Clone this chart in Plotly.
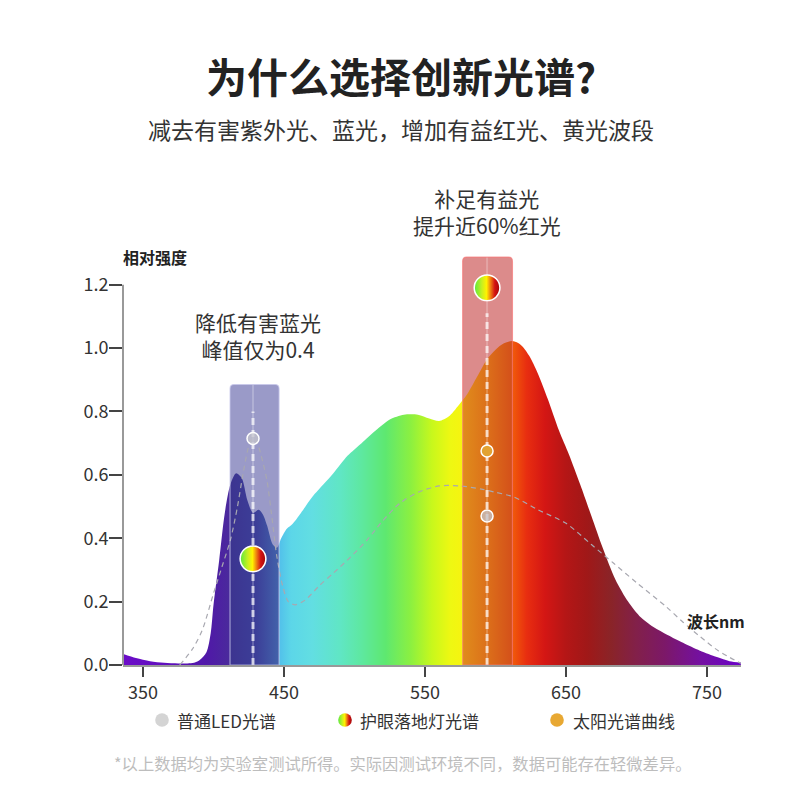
import base64
import plotly.graph_objects as go

# ============================================
# Data
# ============================================
# 护眼落地灯光谱 (filled, colored by wavelength)
lamp_wl = [336, 345, 355, 365, 375, 385, 390, 395, 398, 400, 404, 408, 412, 416, 420,
           424, 428, 432, 435, 438, 442, 445, 448, 452, 456, 462, 470, 478, 485, 495,
           505, 515, 525, 535, 545, 553, 560, 567, 573, 580, 587, 594, 600, 606, 612,
           618, 624, 630, 637, 645, 652, 660, 668, 676, 685, 694, 702, 712, 722, 733,
           745, 757, 766, 774]
lamp_val = [0.035, 0.022, 0.012, 0.007, 0.005, 0.006, 0.015, 0.04, 0.10, 0.19, 0.33, 0.48,
            0.57, 0.605, 0.59, 0.52, 0.48, 0.49, 0.475, 0.44, 0.38, 0.37, 0.40, 0.43,
            0.445, 0.48, 0.53, 0.57, 0.605, 0.66, 0.70, 0.74, 0.775, 0.79, 0.79, 0.778,
            0.77, 0.785, 0.815, 0.855, 0.91, 0.965, 0.995, 1.015, 1.022, 1.01, 0.975,
            0.92, 0.84, 0.74, 0.665, 0.57, 0.47, 0.37, 0.27, 0.20, 0.155, 0.12, 0.095,
            0.07, 0.045, 0.025, 0.012, 0.008]

# 普通LED光谱 (grey dashed)
led_wl = [376, 385, 392, 400, 406, 412, 417, 421, 425, 428, 431, 435, 438, 441, 445, 449,
          453, 458, 465, 475, 485, 497, 509, 520, 532, 545, 560, 575, 590, 600, 613, 630,
          650, 668, 684, 700, 721, 733, 745, 758, 774]
led_val = [0.0, 0.05, 0.11, 0.226, 0.31, 0.395, 0.50, 0.605, 0.69, 0.715, 0.70, 0.64, 0.58,
           0.48, 0.34, 0.25, 0.20, 0.19, 0.205, 0.25, 0.29, 0.34, 0.395, 0.455, 0.51,
           0.545, 0.565, 0.565, 0.555, 0.545, 0.53, 0.49, 0.447, 0.38, 0.32, 0.26, 0.184,
           0.135, 0.09, 0.045, 0.005]

# highlighted bands
blue_band = [411.7, 446.5]
red_band = [576.7, 612.0]
blue_top = 0.885
red_top = 1.287

# picked wavelengths and point values
pick_wl = [428, 594]
guide_top = [0.80, 1.11]
lamp_pts = [0.335, 1.19]
led_pts = [0.715, 0.47]
sun_pts_wl = [594]
sun_pts = [0.675]

x_ticks = [350, 450, 550, 650, 750]
y_ticks = [0, 0.2, 0.4, 0.6, 0.8, 1.0, 1.2]
x_range = [335.8, 774.1]
y_range = [0, 1.3]

legend_names = ['普通LED光谱', '护眼落地灯光谱', '太阳光谱曲线']

# wavelength -> color stops of the spectrum fill
spec_stops = [
    (336, '#6c0cc8'), (370, '#5e10bc'), (395, '#5018a8'), (411.5, '#4a2a9c'),
    (411.8, '#3c3490'), (430, '#3c3e98'), (446.3, '#4262aa'), (446.7, '#52c0ea'),
    (455, '#5cd6e8'), (470, '#62dee2'), (490, '#60e6c4'), (505, '#5ee8a0'),
    (522, '#5ee870'), (540, '#8cf040'), (555, '#c8f81c'), (568, '#eef812'),
    (576.5, '#f6f410'), (576.9, '#e08c1c'), (594, '#dc701a'), (611.8, '#d4501a'),
    (612.2, '#f05a0a'), (622, '#e82e10'), (635, '#d41614'), (650, '#b41616'),
    (665, '#a01818'), (682, '#8a2428'), (700, '#82204a'), (720, '#7c1868'),
    (745, '#7410a0'), (774, '#6a02c8'),
]
span = spec_stops[-1][0] - spec_stops[0][0]
spec_scale = [[(w - spec_stops[0][0]) / span, c] for w, c in spec_stops]

FONT = 'Noto Sans CJK SC'

# plot area in page pixels; the page body adds an 8px offset to the figure
OFF = 8
L, R, T, B = 123, 741, 253, 665


def px_x(p):
    return (p - L) / (R - L)


def px_y(p):
    return (B - p) / (B - T)


def circle_uri(fill, gradient=False, stroke=0):
    defs = ''
    if gradient:
        defs = ('<defs><linearGradient id="g" x1="0" y1="0" x2="1" y2="0">'
                '<stop offset="0" stop-color="#58e840"/>'
                '<stop offset="0.3" stop-color="#c8f020"/>'
                '<stop offset="0.48" stop-color="#fff200"/>'
                '<stop offset="0.62" stop-color="#f08a10"/>'
                '<stop offset="0.8" stop-color="#d41212"/>'
                '<stop offset="1" stop-color="#a00808"/>'
                '</linearGradient></defs>')
        fill = 'url(#g)'
    r = 20 - stroke / 2 - 0.5
    svg = ('<svg xmlns="http://www.w3.org/2000/svg" width="40" height="40" viewBox="0 0 40 40">'
           f'{defs}<circle cx="20" cy="20" r="{r}" fill="{fill}" '
           f'stroke="white" stroke-width="{stroke}"/></svg>')
    return 'data:image/svg+xml;base64,' + base64.b64encode(svg.encode()).decode()


def band_path(band, top):
    x0, x1 = band
    rx, ry = 2.8, 0.013
    return (f'M {x0},0 L {x0},{top - ry} Q {x0},{top} {x0 + rx},{top} '
            f'L {x1 - rx},{top} Q {x1},{top} {x1},{top - ry} L {x1},0 Z')


fig = go.Figure()

# spectrum of the lamp
fig.add_trace(go.Scatter(
    x=lamp_wl, y=lamp_val, mode='lines', line=dict(width=0, shape='spline', smoothing=0.8),
    fill='tozeroy',
    fillgradient=dict(type='horizontal', colorscale=spec_scale,
                      start=spec_stops[0][0], stop=spec_stops[-1][0]),
    hoverinfo='skip', showlegend=False,
))

# normal LED spectrum
fig.add_trace(go.Scatter(
    x=led_wl, y=led_val, mode='lines',
    line=dict(color='#a8a8b0', width=1.2, dash='5px,4px', shape='spline', smoothing=0.8),
    hoverinfo='skip', showlegend=False,
))

# faint centre lines and dashed guides in the bands
band_tops = [blue_top, red_top]
for wl, top, gtop in zip(pick_wl, band_tops, guide_top):
    fig.add_trace(go.Scatter(
        x=[wl, wl], y=[0, top], mode='lines',
        line=dict(color='rgba(255,255,255,0.22)', width=2),
        hoverinfo='skip', showlegend=False,
    ))
    fig.add_trace(go.Scatter(
        x=[wl, wl], y=[0, gtop], mode='lines',
        line=dict(color='rgba(255,255,255,0.7)', width=3, dash='7px,5px'),
        hoverinfo='skip', showlegend=False,
    ))

# LED points and sun point
fig.add_trace(go.Scatter(
    x=pick_wl, y=led_pts, mode='markers',
    marker=dict(size=12, color='rgba(196,196,204,0.75)', line=dict(color='white', width=1.5)),
    hoverinfo='skip', showlegend=False,
))
fig.add_trace(go.Scatter(
    x=sun_pts_wl, y=sun_pts, mode='markers',
    marker=dict(size=12, color='#e2a232', line=dict(color='white', width=1.5)),
    hoverinfo='skip', showlegend=False,
))

# bands: fill below the spectrum, thin border above
shapes = [
    dict(type='path', path=band_path(blue_band, blue_top), xref='x', yref='y',
         fillcolor='#9a9ac8', line=dict(width=0), layer='below'),
    dict(type='path', path=band_path(red_band, red_top), xref='x', yref='y',
         fillcolor='#dc8b8b', line=dict(width=0), layer='below'),
    dict(type='path', path=band_path(blue_band, blue_top), xref='x', yref='y',
         fillcolor='rgba(0,0,0,0)', line=dict(color='rgba(200,200,235,0.7)', width=1.2)),
    dict(type='path', path=band_path(red_band, red_top), xref='x', yref='y',
         fillcolor='rgba(0,0,0,0)', line=dict(color='rgba(245,120,120,0.7)', width=1.2)),
    # left axis line, only up to 1.2
    dict(type='line', xref='paper', yref='paper', x0=0, x1=0, y0=0,
         y1=y_ticks[-1] / y_range[1], line=dict(color='#999999', width=2)),
]

# gradient circles of the lamp
grad_uri = circle_uri(None, gradient=True, stroke=2.2)
images = []
for wl, v in zip(pick_wl, lamp_pts):
    images.append(dict(source=grad_uri, xref='x', yref='y', x=wl, y=v,
                       sizex=28 / 1.41, sizey=28 / 316.9, xanchor='center', yanchor='middle',
                       sizing='stretch', layer='above'))

# legend
legend_icons = [circle_uri('#d4d4d4'), circle_uri(None, gradient=True), circle_uri('#e8a832')]
legend_icon_x = [162, 345, 557]
legend_text_x = [175, 358, 571]
legend_y = 720
annotations = []
for icon, ix, tx, name in zip(legend_icons, legend_icon_x, legend_text_x, legend_names):
    images.append(dict(source=icon, xref='paper', yref='paper', x=px_x(ix), y=px_y(legend_y),
                       sizex=14 / (R - L), sizey=14 / (B - T), xanchor='center',
                       yanchor='middle', sizing='stretch', layer='above'))
    annotations.append(dict(text=name, xref='paper', yref='paper', x=px_x(tx), y=px_y(legend_y),
                            xanchor='left', yanchor='middle', showarrow=False,
                            font=dict(size=17, color='#333333')))

texts = [
    ('<b>为什么选择创新光谱?</b>', 401, 75, 41, '#222222', 'center'),
    ('减去有害紫外光、蓝光，增加有益红光、黄光波段', 401, 129, 23, '#333333', 'center'),
    ('<b>相对强度</b>', 121, 257, 16, '#222222', 'left'),
    ('<b>波长nm</b>', 685, 621, 16, '#222222', 'left'),
    ('降低有害蓝光<br>峰值仅为0.4', 258, 335, 21, '#333333', 'center'),
    ('补足有益光<br>提升近60%红光', 487, 211, 21, '#333333', 'center'),
    ('*以上数据均为实验室测试所得。实际因测试环境不同，数据可能存在轻微差异。',
     402, 763, 16.3, '#bdbdbd', 'center'),
]
for txt, x, y, size, color, anchor in texts:
    annotations.append(dict(text=txt, xref='paper', yref='paper', x=px_x(x), y=px_y(y),
                            xanchor=anchor, yanchor='middle', showarrow=False,
                            font=dict(size=size, color=color)))

fig.update_layout(
    width=800, height=800,
    margin=dict(l=L - OFF, r=800 - R + OFF, t=T - OFF, b=800 - B + OFF, pad=0),
    paper_bgcolor='white', plot_bgcolor='white',
    font=dict(family=FONT, color='#333333'),
    shapes=shapes, images=images, annotations=annotations,
    showlegend=False,
)
fig.update_xaxes(
    range=x_range, tickvals=x_ticks, showgrid=False, zeroline=False,
    showline=True, linecolor='#999999', linewidth=2,
    ticks='outside', ticklen=10, tickwidth=2, tickcolor='#444444',
    tickfont=dict(size=18, color='#333333'),
)
fig.update_yaxes(
    range=y_range, tickvals=y_ticks, tickformat='.1f', showgrid=False, zeroline=False,
    showline=False, ticks='outside', ticklen=13, tickwidth=2, tickcolor='#444444',
    tickfont=dict(size=18, color='#333333'), ticklabelstandoff=-3,
)

fig.write_html('out.html')
